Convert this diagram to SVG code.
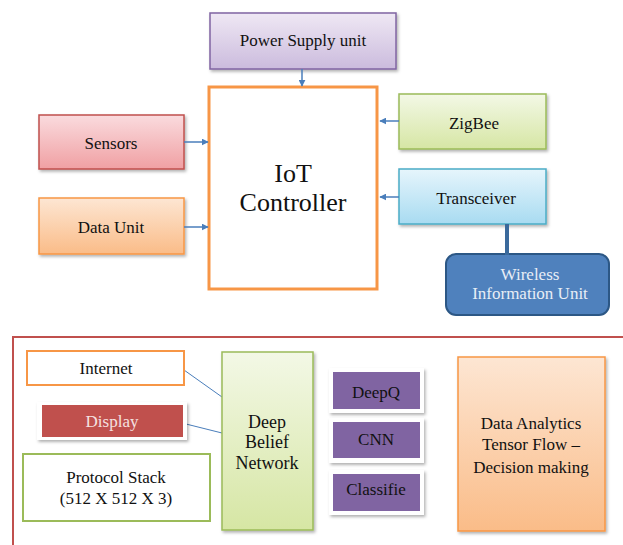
<svg xmlns="http://www.w3.org/2000/svg" width="623" height="545" viewBox="0 0 623 545">
  <defs>
    <linearGradient id="gPurple" x1="0" y1="0" x2="0" y2="1"><stop offset="0" stop-color="#efe8f4"/><stop offset="1" stop-color="#cbbbdd"/></linearGradient>
    <linearGradient id="gRed" x1="0" y1="0" x2="0" y2="1"><stop offset="0" stop-color="#fadbde"/><stop offset="1" stop-color="#f0a0a3"/></linearGradient>
    <linearGradient id="gOrange" x1="0" y1="0" x2="0" y2="1"><stop offset="0" stop-color="#fde6d3"/><stop offset="1" stop-color="#fabc88"/></linearGradient>
    <linearGradient id="gGreen" x1="0" y1="0" x2="0" y2="1"><stop offset="0" stop-color="#f3f8e6"/><stop offset="1" stop-color="#d6e6a4"/></linearGradient>
    <linearGradient id="gBlue" x1="0" y1="0" x2="0" y2="1"><stop offset="0" stop-color="#e6f5fc"/><stop offset="1" stop-color="#a8dbf1"/></linearGradient>
    <filter id="shadow" x="-10%" y="-10%" width="125%" height="130%">
      <feDropShadow dx="1.5" dy="2" stdDeviation="1.5" flood-color="#000" flood-opacity="0.3"/>
    </filter>
    <marker id="arrow" viewBox="0 0 10 10" refX="9" refY="5" markerWidth="7" markerHeight="7" markerUnits="userSpaceOnUse" orient="auto">
      <path d="M0,0 L10,5 L0,10 z" fill="#4a7ebb"/>
    </marker>
  </defs>

  <rect width="623" height="545" fill="#fff"/>

  <!-- upper block: IoT controller and its peripherals -->
  <g id="power-supply">
    <rect x="210" y="13" width="186" height="56" fill="url(#gPurple)" stroke="#8064a2" stroke-width="1.5" filter="url(#shadow)"/>
    <text x="303" y="46" font-family="Liberation Serif" font-size="17" fill="#111" text-anchor="middle">Power Supply unit</text>
  </g>
  <g id="iot-controller">
    <rect x="209" y="87" width="168" height="202" fill="#fff" stroke="#f79646" stroke-width="3"/>
    <text x="293" y="182" font-family="Liberation Serif" font-size="26" fill="#111" text-anchor="middle">IoT</text>
    <text x="293" y="211" font-family="Liberation Serif" font-size="26" fill="#111" text-anchor="middle">Controller</text>
  </g>
  <g id="sensors">
    <rect x="39" y="115" width="145" height="54" fill="url(#gRed)" stroke="#c0504d" stroke-width="1.5" filter="url(#shadow)"/>
    <text x="111" y="149" font-family="Liberation Serif" font-size="17" fill="#111" text-anchor="middle">Sensors</text>
  </g>
  <g id="data-unit">
    <rect x="39" y="198" width="145" height="56" fill="url(#gOrange)" stroke="#f79646" stroke-width="1.5" filter="url(#shadow)"/>
    <text x="111" y="233" font-family="Liberation Serif" font-size="17" fill="#111" text-anchor="middle">Data Unit</text>
  </g>
  <g id="zigbee">
    <rect x="399" y="94" width="147" height="55" fill="url(#gGreen)" stroke="#9bbb59" stroke-width="1.5" filter="url(#shadow)"/>
    <text x="474" y="129" font-family="Liberation Serif" font-size="17" fill="#111" text-anchor="middle">ZigBee</text>
  </g>
  <g id="transceiver">
    <rect x="399" y="169" width="147" height="55" fill="url(#gBlue)" stroke="#4bacc6" stroke-width="1.5" filter="url(#shadow)"/>
    <text x="476" y="204" font-family="Liberation Serif" font-size="17" fill="#111" text-anchor="middle">Transceiver</text>
  </g>
  <g id="wireless-info-unit">
    <rect x="446" y="254" width="163" height="61" rx="10" fill="#4f81bd" stroke="#2c5785" stroke-width="2"/>
    <text x="530" y="280" font-family="Liberation Serif" font-size="17" fill="#e8eef6" text-anchor="middle">Wireless</text>
    <text x="530" y="299" font-family="Liberation Serif" font-size="17" fill="#e8eef6" text-anchor="middle">Information Unit</text>
  </g>

  <g id="connectors" fill="none">
    <g stroke="#4a7ebb" stroke-width="1.5" marker-end="url(#arrow)">
      <line x1="302" y1="69" x2="302" y2="86"/>
      <line x1="184" y1="142" x2="208" y2="142"/>
      <line x1="184" y1="227" x2="208" y2="227"/>
      <line x1="399" y1="121" x2="380" y2="121"/>
      <line x1="399" y1="197" x2="380" y2="197"/>
    </g>
    <line x1="507" y1="224" x2="507" y2="255" stroke="#3b6a9c" stroke-width="4"/>
    <g stroke="#4a7ebb" stroke-width="1">
      <line x1="184" y1="370" x2="222" y2="397"/>
      <line x1="182" y1="423" x2="222" y2="433"/>
    </g>
  </g>

  <!-- lower block: analytics frame -->
  <g id="analytics-frame">
    <path d="M13,548 L13,337 L626,337" fill="none" stroke="#c0504d" stroke-width="2"/>
  </g>
  <g id="internet">
    <rect x="27" y="351" width="157" height="34" fill="#fff" stroke="#f79646" stroke-width="2"/>
    <text x="106" y="374" font-family="Liberation Serif" font-size="17" fill="#111" text-anchor="middle">Internet</text>
  </g>
  <g id="display">
    <rect x="37" y="402" width="150" height="38" fill="#fff" filter="url(#shadow)"/>
    <rect x="42" y="405" width="141" height="32" fill="#c0504d"/>
    <text x="112" y="427" font-family="Liberation Serif" font-size="17" fill="#f5e1e0" text-anchor="middle">Display</text>
  </g>
  <g id="protocol-stack">
    <rect x="23" y="454" width="187" height="67" fill="#fff" stroke="#9bbb59" stroke-width="2"/>
    <text x="116" y="483" font-family="Liberation Serif" font-size="17" fill="#111" text-anchor="middle">Protocol Stack</text>
    <text x="116" y="504" font-family="Liberation Serif" font-size="17" fill="#111" text-anchor="middle">(512 X 512 X 3)</text>
  </g>
  <g id="deep-belief-network">
    <rect x="222" y="352" width="91" height="178" fill="url(#gGreen)" stroke="#9bbb59" stroke-width="1.5" filter="url(#shadow)"/>
    <text x="267" y="428" font-family="Liberation Serif" font-size="18" fill="#111" text-anchor="middle">Deep</text>
    <text x="267" y="448" font-family="Liberation Serif" font-size="18" fill="#111" text-anchor="middle">Belief</text>
    <text x="267" y="469" font-family="Liberation Serif" font-size="18" fill="#111" text-anchor="middle">Network</text>
  </g>
  <g id="deepq">
    <rect x="329" y="368" width="95" height="45" fill="#fff" filter="url(#shadow)"/>
    <rect x="333" y="372" width="87" height="37" fill="#8064a2"/>
    <text x="376" y="398" font-family="Liberation Serif" font-size="17" fill="#111" text-anchor="middle">DeepQ</text>
  </g>
  <g id="cnn">
    <rect x="329" y="418" width="95" height="45" fill="#fff" filter="url(#shadow)"/>
    <rect x="333" y="422" width="87" height="36" fill="#8064a2"/>
    <text x="376" y="445" font-family="Liberation Serif" font-size="17" fill="#111" text-anchor="middle">CNN</text>
  </g>
  <g id="classifier">
    <rect x="329" y="470" width="95" height="45" fill="#fff" filter="url(#shadow)"/>
    <rect x="333" y="474" width="87" height="37" fill="#8064a2"/>
    <text x="376" y="495" font-family="Liberation Serif" font-size="17" fill="#111" text-anchor="middle">Classifie</text>
  </g>
  <g id="data-analytics">
    <rect x="458" y="357" width="147" height="174" fill="url(#gOrange)" stroke="#f79646" stroke-width="1.5" filter="url(#shadow)"/>
    <text x="531" y="429" font-family="Liberation Serif" font-size="17" fill="#111" text-anchor="middle">Data Analytics</text>
    <text x="531" y="450" font-family="Liberation Serif" font-size="17" fill="#111" text-anchor="middle">Tensor Flow –</text>
    <text x="531" y="473" font-family="Liberation Serif" font-size="17" fill="#111" text-anchor="middle">Decision making</text>
  </g>
</svg>
